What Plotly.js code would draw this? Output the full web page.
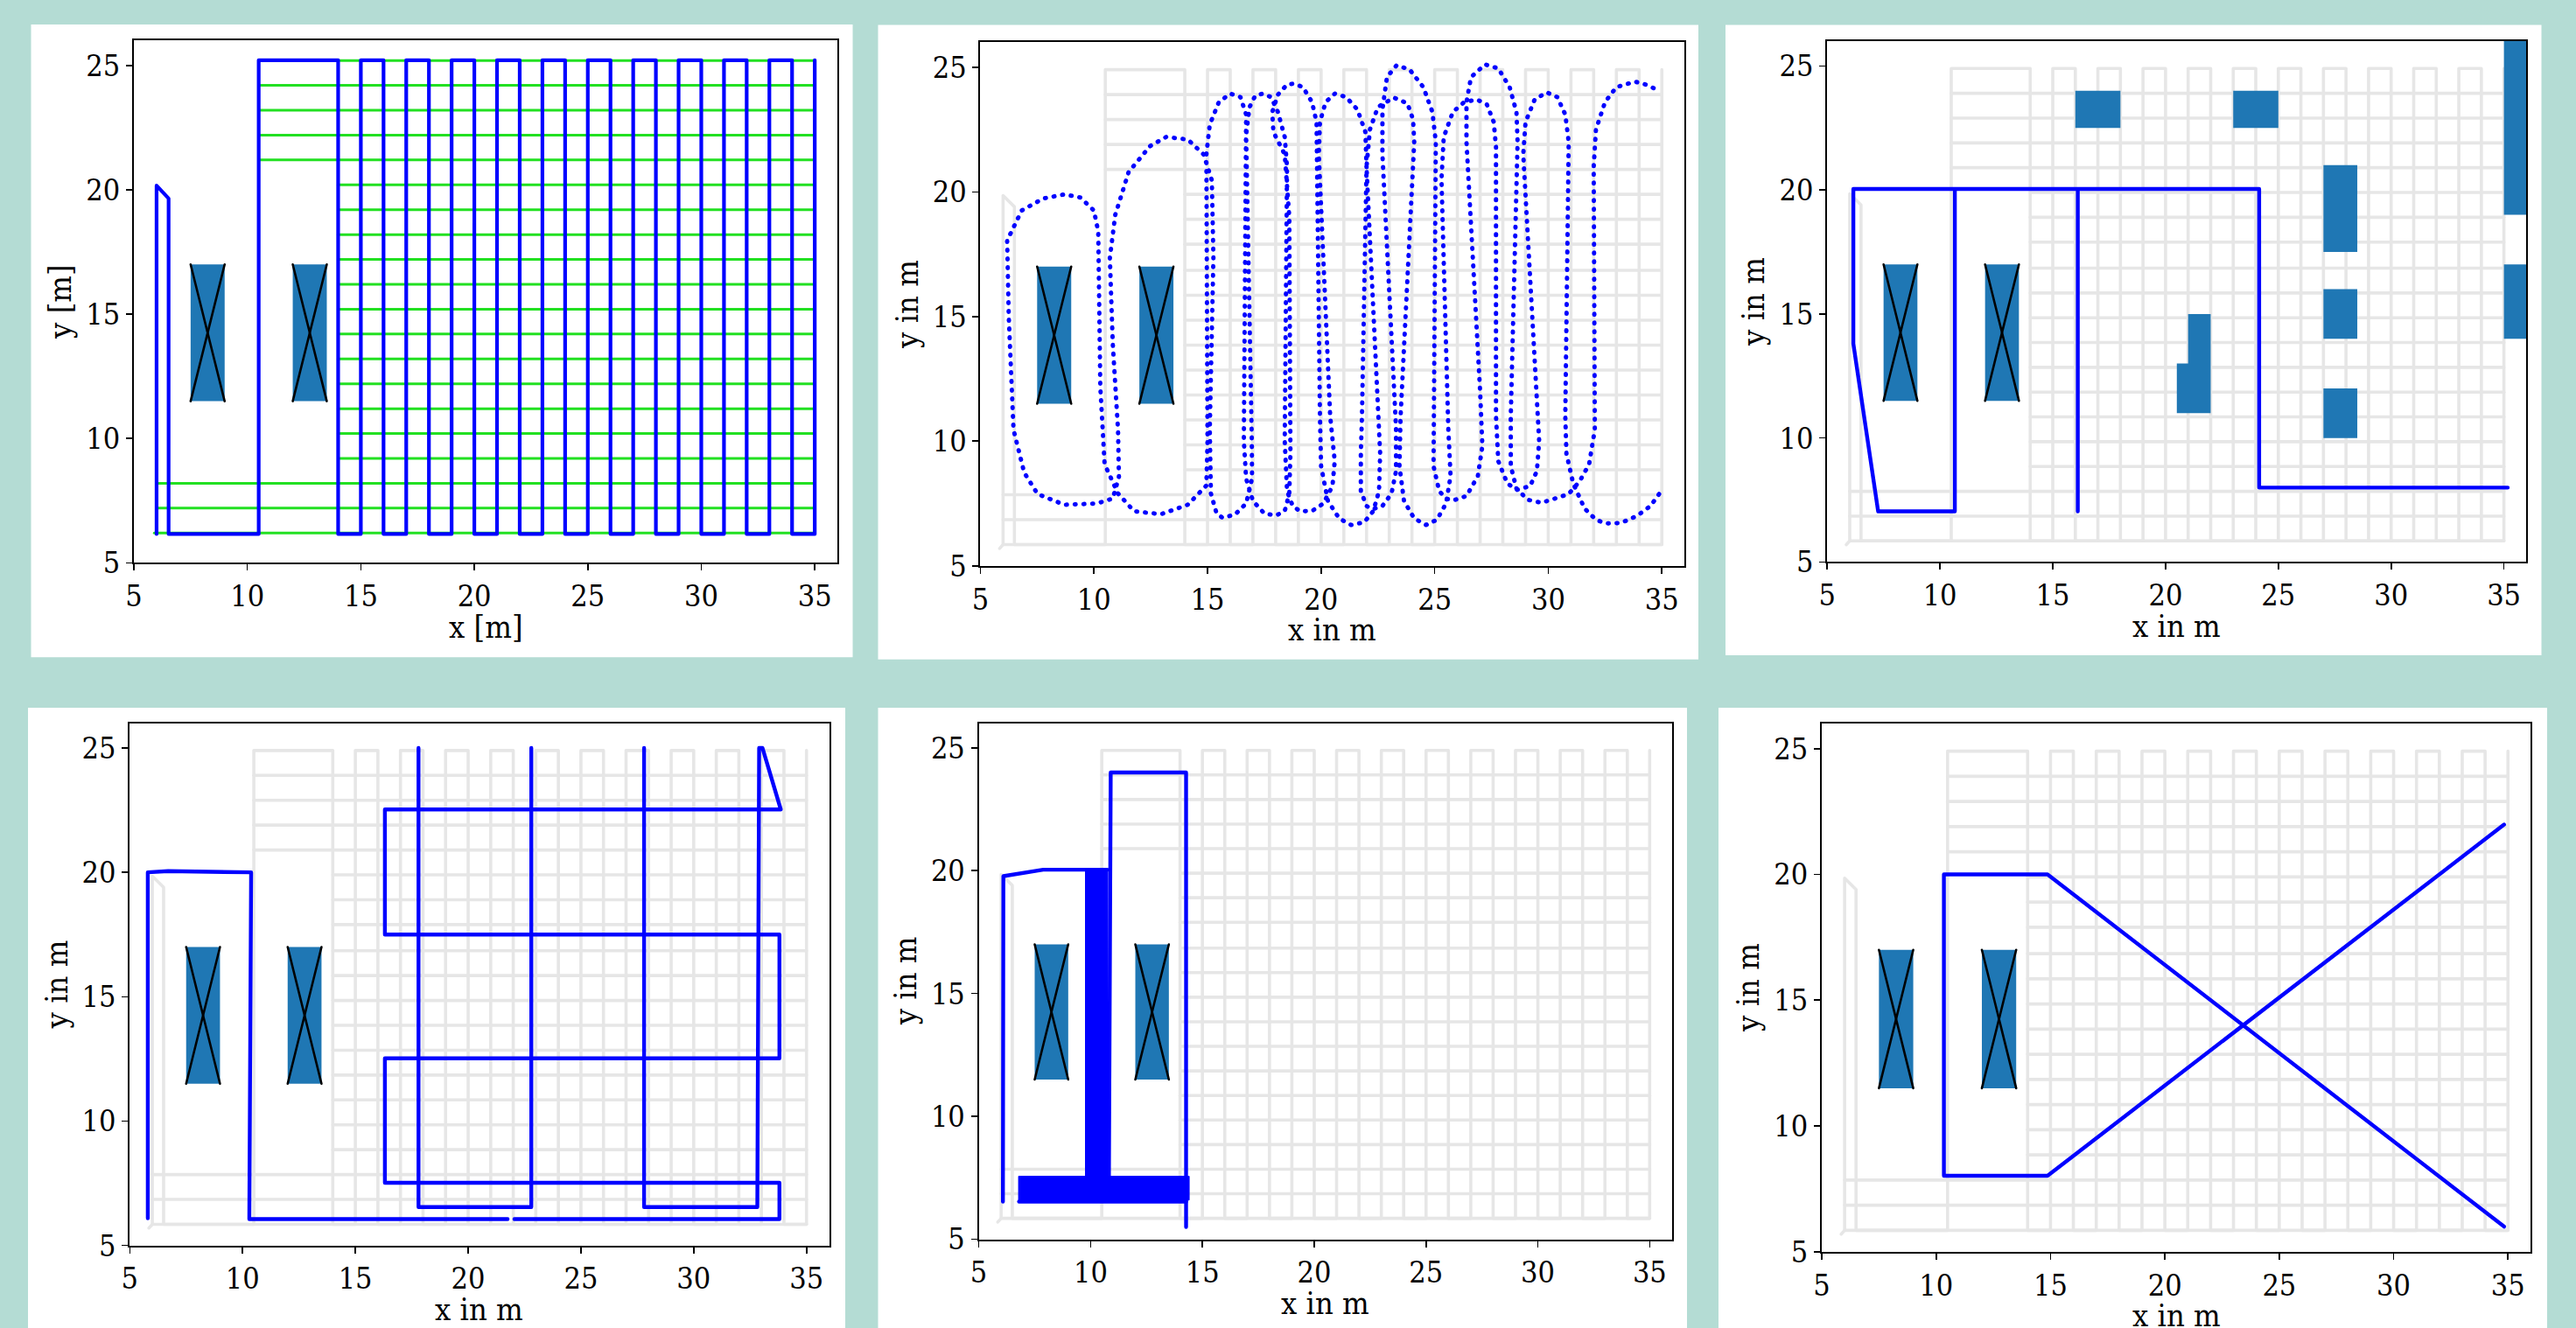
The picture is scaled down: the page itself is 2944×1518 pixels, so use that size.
<!DOCTYPE html>
<html><head><meta charset="utf-8">
<script src="https://cdn.plot.ly/plotly-3.0.1.min.js"></script>
<style>html,body{margin:0;padding:0;background:#b4dcd4;}#chart{width:2944px;height:1518px;}
path.js-line{stroke-linecap:round;stroke-linejoin:round;}</style>
</head><body><div id="chart"></div>
<script>
// ---------------- DATA ----------------
const xTickVals = [5, 10, 15, 20, 25, 30, 35];
const yTickVals = [5, 10, 15, 20, 25];
const xTitles = ["x [m]", "x in m", "x in m", "x in m", "x in m", "x in m"];
const yTitles = ["y [m]", "y in m", "y in m", "y in m", "y in m", "y in m"];

// obstacles with a cross (all panels)
const crossObsX0 = [7.5, 12.0];
const crossObsX1 = [9.0, 13.5];
const crossObsY0 = [11.5, 11.5];
const crossObsY1 = [17.0, 17.0];

// reference path (light gray, panels 2-6)
const refPathX = [5.85, 6.0, 6.0, 6.5, 6.5, 10.5, 10.5, 14, 14, 15, 15, 16, 16, 17, 17, 18, 18, 19, 19, 20, 20, 21, 21, 22, 22, 23, 23, 24, 24, 25, 25, 26, 26, 27, 27, 28, 28, 29, 29, 30, 30, 31, 31, 32, 32, 33, 33, 34, 34, 35, 35];
const refPathY = [5.7, 5.85, 19.85, 19.4, 5.85, 5.85, 24.9, 24.9, 5.85, 5.85, 24.9, 24.9, 5.85, 5.85, 24.9, 24.9, 5.85, 5.85, 24.9, 24.9, 5.85, 5.85, 24.9, 24.9, 5.85, 5.85, 24.9, 24.9, 5.85, 5.85, 24.9, 24.9, 5.85, 5.85, 24.9, 24.9, 5.85, 5.85, 24.9, 24.9, 5.85, 5.85, 24.9, 24.9, 5.85, 5.85, 24.9, 24.9, 5.85, 5.85, 24.9];
const refRowY  = [5.85, 6.85, 7.85, 8.85, 9.85, 10.85, 11.85, 12.85, 13.85, 14.85, 15.85, 16.85, 17.9, 18.9, 19.9, 20.9, 21.9, 22.9, 23.9];
const refRowX0 = [6.0, 6.0, 6.0, 14, 14, 14, 14, 14, 14, 14, 14, 14, 14, 14, 14, 10.5, 10.5, 10.5, 10.5];
const refRowX1 = [35, 35, 35, 35, 35, 35, 35, 35, 35, 35, 35, 35, 35, 35, 35, 35, 35, 35, 35];

// panel 1: driven path (blue) and planned rows (green)
const p1PathX = [6.0, 6.0, 6.53, 6.53, 10.5, 10.5, 14, 14, 15, 15, 16, 16, 17, 17, 18, 18, 19, 19, 20, 20, 21, 21, 22, 22, 23, 23, 24, 24, 25, 25, 26, 26, 27, 27, 28, 28, 29, 29, 30, 30, 31, 31, 32, 32, 33, 33, 34, 34, 35, 35];
const p1PathY = [6.16, 20.17, 19.65, 6.16, 6.16, 25.21, 25.21, 6.16, 6.16, 25.21, 25.21, 6.16, 6.16, 25.21, 25.21, 6.16, 6.16, 25.21, 25.21, 6.16, 6.16, 25.21, 25.21, 6.16, 6.16, 25.21, 25.21, 6.16, 6.16, 25.21, 25.21, 6.16, 6.16, 25.21, 25.21, 6.16, 6.16, 25.21, 25.21, 6.16, 6.16, 25.21, 25.21, 6.16, 6.16, 25.21, 25.21, 6.16, 6.16, 25.21];
const p1RowY  = [6.2, 7.2, 8.2, 9.2, 10.2, 11.2, 12.2, 13.2, 14.2, 15.2, 16.2, 17.2, 18.2, 19.2, 20.2, 21.2, 22.2, 23.2, 24.2, 25.2];
const p1RowX0 = [5.9, 6.05, 6.05, 14, 14, 14, 14, 14, 14, 14, 14, 14, 14, 14, 14, 10.5, 10.5, 10.5, 10.5, 14];
const p1RowX1 = [35, 35, 35, 35, 35, 35, 35, 35, 35, 35, 35, 35, 35, 35, 35, 35, 35, 35, 35, 35];

// panel 2: dotted driven trajectory
const p2X = [34.88,34.5,33.9,33.2,32.52,32.1,31.6,31.1,30.8,30.75,
  30.9,30.75,30.4,29.93,29.4,29.0,28.9,
  29.5,29.6,29.5,29.2,28.63,28.2,27.8,27.7,
  27.7,27.6,27.3,26.86,26.3,25.8,25.4,25.3,
  25.6,25.7,25.5,25.1,24.62,24.1,23.65,23.45,23.5,
  24.1,24.05,23.8,23.2,22.5,22.15,22.0,
  22.6,22.55,22.3,21.9,21.32,20.8,20.3,20.0,19.95,
  19.85,19.8,19.6,19.2,18.8,18.5,18.1,17.85,17.9,18.4,18.6,
  18.65,18.6,18.4,18.02,17.5,17.0,16.7,16.6,
  16.72,16.7,16.45,16.0,15.5,15.1,14.95,
  15.0,14.95,14.13,12.95,11.77,11.06,10.47,10.28,
  10.19,10.0,9.41,8.7,7.76,6.82,6.18,6.25,
  6.46,6.93,7.52,8.7,10.12,10.83,11.1,11.06,
  10.83,10.7,
  10.94,11.53,12.48,13.18,14.13,14.83,15.19,
  15.26,15.1,15.15,15.4,15.66,16.2,16.7,16.96,16.95,
  16.7,16.85,17.1,17.43,17.8,18.1,18.4,18.5,
  18.4,18.5,18.75,19.08,19.6,20.1,20.5,20.6,20.4,
  19.9,19.95,20.2,20.61,21.1,21.6,21.95,22.0,
  21.8,21.75,21.75,22.0,22.26,22.7,23.1,23.3,23.3,
  22.7,22.7,22.9,23.33,23.9,24.5,24.9,25.05,
  24.95,24.95,25.2,25.5,25.8,26.4,26.9,27.1,27.0,
  26.4,26.4,26.6,27.22,27.8,28.3,28.6,28.65,
  28.35,28.35,28.6,29.1,29.7,30.3,30.9,31.39,31.8,32.05,
  32.0,32.1,32.5,33.0,33.82,34.3,34.83];
const p2Y = [7.88,7.4,7.0,6.72,6.7,6.85,7.3,8.3,9.5,11,
  22.0,23.1,23.8,23.99,23.7,22.8,21.5,
  12,10,8.8,8.2,8.05,8.3,9.2,11,
  21.8,22.8,23.5,23.7,23.6,23.2,22.2,20.5,
  10.5,8.6,7.5,6.85,6.64,6.9,7.6,9.0,11,
  22.0,22.9,23.55,23.78,23.4,22.5,21.0,
  9.5,8.0,7.2,6.75,6.64,6.9,7.6,9.0,11,
  21.5,22.8,23.6,24.2,24.34,24.3,23.9,23.2,22.4,21.5,19,
  9.5,7.9,7.2,7.02,7.1,7.6,8.5,10,
  22.0,23.1,23.8,23.94,23.6,22.7,21.5,
  10,8.22,7.45,7.07,7.19,7.9,9.08,12.19,
  18.4,19.25,19.77,19.9,19.73,19.25,18.05,15.0,
  10.46,8.74,7.88,7.45,7.5,7.7,8.57,10.46,
  13.9,17.35,
  19.08,20.8,21.84,22.2,22.1,21.5,20.46,
  17.36,10.46,7.9,7.1,6.93,7.05,7.5,8.5,10,
  22.3,23.4,23.85,23.94,23.8,23.2,22.2,21.0,
  10,8.0,7.4,7.19,7.2,7.5,8.2,9.2,11,
  21.5,22.8,23.6,23.94,23.8,23.3,22.4,21.0,
  11,9.5,8.0,7.4,7.27,7.4,7.9,8.8,10.5,
  21.5,23.3,24.6,25.08,24.9,24.2,23.2,22.0,
  11,9.0,8.0,7.7,7.62,7.8,8.6,9.8,12,
  22,23.6,24.6,25.11,24.95,24.2,23.2,22.0,
  11,9.0,8.1,7.65,7.53,7.7,7.88,8.4,9.08,10.46,
  21.0,22.5,23.6,24.2,24.42,24.3,24.08];

// panel 3: path and extra obstacles
const p3PathX = [16.11, 16.11, 10.66, 10.66, 7.26, 6.16, 6.16, 24.15, 24.15, 35.17];
const p3PathY = [7.04, 20.04, 20.04, 7.04, 7.04, 13.8, 20.04, 20.04, 8.0, 8.0];
const p3ObsX0 = [16, 23, 27, 27, 27, 21, 20.5, 35, 35];
const p3ObsX1 = [18, 25, 28.5, 28.5, 28.5, 22, 21, 37, 37];
const p3ObsY0 = [22.5, 22.5, 17.5, 14, 10, 11, 11, 19, 14];
const p3ObsY1 = [24, 24, 21, 16, 12, 15, 13, 27, 17];

// panel 4: path
const p4PathX = [5.8, 5.8, 6.7, 10.38, 10.3, 21.75, null, 22.05, 33.8, 33.8, 16.31, 16.31, 33.8, 33.8, 16.31, 16.31, 33.86, 33.05, 32.9, 32.82, 27.8, 27.8, null, 22.8, 22.8, 17.8, 17.8];
const p4PathY = [6.09, 20.0, 20.05, 20.0, 6.06, 6.06, null, 6.06, 6.06, 7.52, 7.52, 12.52, 12.52, 17.5, 17.5, 22.53, 22.53, 25.0, 25.0, 6.54, 6.54, 25.0, null, 25.0, 6.54, 6.54, 25.0];

// panel 5: path and dense oscillation area
const p5PathX = [6.08, 6.1, 7.88, 10.75, null, 6.8, 14.27, null, 10.82, 10.9, 14.27, 14.27];
const p5PathY = [6.53, 19.78, 20.04, 20.04, null, 6.53, 6.53, null, 7.55, 24.0, 24.0, 5.5];
const p5BandX = [9.79, 10.75, 10.75, 14.39, 14.39, 6.8, 6.8, 9.79, 9.79];
const p5BandY = [20.04, 20.04, 7.55, 7.55, 6.61, 6.61, 7.55, 7.55, 20.04];

// panel 6: path
const p6PathX = [34.83, 14.87, 10.34, 10.34, 14.87, 34.83];
const p6PathY = [6.0, 20.0, 20.0, 8.02, 8.02, 21.98];

// ---------------- LAYOUT GEOMETRY (pixels) ----------------
const W = 2944, H = 1518;
const axesPx = [ // left, right, top, bottom
  [153, 957.1, 46.4, 643.4],
  [1120.4, 1925.2, 48.3, 646.8],
  [2088.2, 2887.4, 47.1, 642.4],
  [148.3, 947.5, 826.6, 1423.6],
  [1118.6, 1910.9, 826.8, 1416.5],
  [2082, 2892.4, 827, 1430.8]
];
const cardsPx = [
  [35.5, 974.5, 28, 751.3],
  [1003.5, 1941, 28.5, 753.7],
  [1972, 2904.5, 28.5, 749],
  [32, 966, 809, 1518],
  [1003.5, 1928, 809, 1518],
  [1964, 2911, 809, 1518]
];
const FONT = "DejaVu Serif Condensed, DejaVu Serif, serif";
const BLUE = "#0000ff", GRAY = "#e6e6e6", GREEN = "#22e022", OBS = "#1f77b4";

// ---------------- BUILD ----------------
const traces = [];
function ax(i) { return i === 0 ? "" : String(i + 1); }
function addLine(i, xs, ys, color, width, dash) {
  traces.push({type: "scatter", mode: "lines", x: xs, y: ys, xaxis: "x" + ax(i), yaxis: "y" + ax(i),
    line: {color: color, width: width, dash: dash || "solid"}, hoverinfo: "skip", showlegend: false});
}
function rowsToPath(ys, x0s, x1s) {
  const X = [], Y = [];
  ys.forEach((y, k) => { X.push(x0s[k], x1s[k], null); Y.push(y, y, null); });
  return [X, Y];
}
function addRects(i, x0s, x1s, y0s, y1s) {
  const X = [], Y = [];
  x0s.forEach((x0, k) => {
    X.push(x0, x1s[k], x1s[k], x0, x0, null);
    Y.push(y0s[k], y0s[k], y1s[k], y1s[k], y0s[k], null);
  });
  traces.push({type: "scatter", mode: "lines", x: X, y: Y, xaxis: "x" + ax(i), yaxis: "y" + ax(i),
    fill: "toself", fillcolor: OBS, line: {width: 0, color: OBS}, hoverinfo: "skip", showlegend: false});
}
function addCrosses(i) {
  addRects(i, crossObsX0, crossObsX1, crossObsY0, crossObsY1);
  const X = [], Y = [];
  crossObsX0.forEach((x0, k) => {
    X.push(x0, crossObsX1[k], null, x0, crossObsX1[k], null);
    Y.push(crossObsY1[k], crossObsY0[k], null, crossObsY0[k], crossObsY1[k], null);
  });
  addLine(i, X, Y, "#000000", 2.6);
}
function addReference(i) {
  addLine(i, refPathX, refPathY, GRAY, 3.6);
  const r = rowsToPath(refRowY, refRowX0, refRowX1);
  addLine(i, r[0], r[1], GRAY, 3.6);
}

// panel 1
{
  const r = rowsToPath(p1RowY, p1RowX0, p1RowX1);
  addLine(0, r[0], r[1], GREEN, 3);
  addCrosses(0);
  addLine(0, p1PathX, p1PathY, BLUE, 4.2);
}
// panel 2
addReference(1);
addCrosses(1);
addLine(1, p2X, p2Y, BLUE, 5, "1px,9px");
// panel 3
addReference(2);
addRects(2, p3ObsX0, p3ObsX1, p3ObsY0, p3ObsY1);
addCrosses(2);
addLine(2, p3PathX, p3PathY, BLUE, 4.4);
// panel 4
addReference(3);
addCrosses(3);
addLine(3, p4PathX, p4PathY, BLUE, 4.4);
// panel 5
addReference(4);
addCrosses(4);
traces.push({type: "scatter", mode: "lines", x: p5BandX, y: p5BandY, xaxis: "x5", yaxis: "y5",
  fill: "toself", fillcolor: BLUE, line: {width: 2, color: BLUE}, hoverinfo: "skip", showlegend: false});
addLine(4, p5PathX, p5PathY, BLUE, 4.4);
// panel 6
addReference(5);
addCrosses(5);
addLine(5, p6PathX, p6PathY, BLUE, 4.4);

const layout = {
  width: W, height: H,
  margin: {l: 0, r: 0, t: 0, b: 0},
  paper_bgcolor: "#b4dcd4",
  plot_bgcolor: "rgba(0,0,0,0)",
  showlegend: false,
  font: {family: FONT, color: "#000000"},
  shapes: [],
  annotations: []
};
axesPx.forEach((a, i) => {
  const [l, r, t, b] = a;
  const common = {showline: true, mirror: true, linecolor: "#000000", linewidth: 2,
    ticks: "outside", ticklen: 7, tickwidth: 1.6, tickcolor: "#000000",
    showgrid: false, zeroline: false, tickfont: {family: FONT, size: 34, color: "#000000"}, fixedrange: true};
  layout["xaxis" + ax(i)] = Object.assign({}, common, {
    domain: [l / W, r / W], range: [5, 36], tickmode: "array", tickvals: xTickVals,
    anchor: "y" + ax(i)});
  layout["yaxis" + ax(i)] = Object.assign({}, common, {
    domain: [1 - b / H, 1 - t / H], range: [5, 26], tickmode: "array", tickvals: yTickVals,
    anchor: "x" + ax(i)});
  layout.annotations.push({xref: "paper", yref: "paper", x: (l + r) / 2 / W, y: 1 - (b + 73) / H,
    text: xTitles[i], showarrow: false, xanchor: "center", yanchor: "middle",
    font: {family: FONT, size: 36, color: "#000000"}});
  layout.annotations.push({xref: "paper", yref: "paper", x: (l - 84) / W, y: 1 - (t + b) / 2 / H,
    text: yTitles[i], showarrow: false, xanchor: "center", yanchor: "middle", textangle: -90,
    font: {family: FONT, size: 36, color: "#000000"}});
});
cardsPx.forEach(c => {
  layout.shapes.push({type: "rect", xref: "paper", yref: "paper", layer: "below",
    x0: c[0] / W, x1: c[1] / W, y0: 1 - c[3] / H, y1: 1 - c[2] / H,
    fillcolor: "#ffffff", line: {width: 0}});
});

Plotly.newPlot("chart", traces, layout, {staticPlot: true, displayModeBar: false});
</script>
</body></html>
